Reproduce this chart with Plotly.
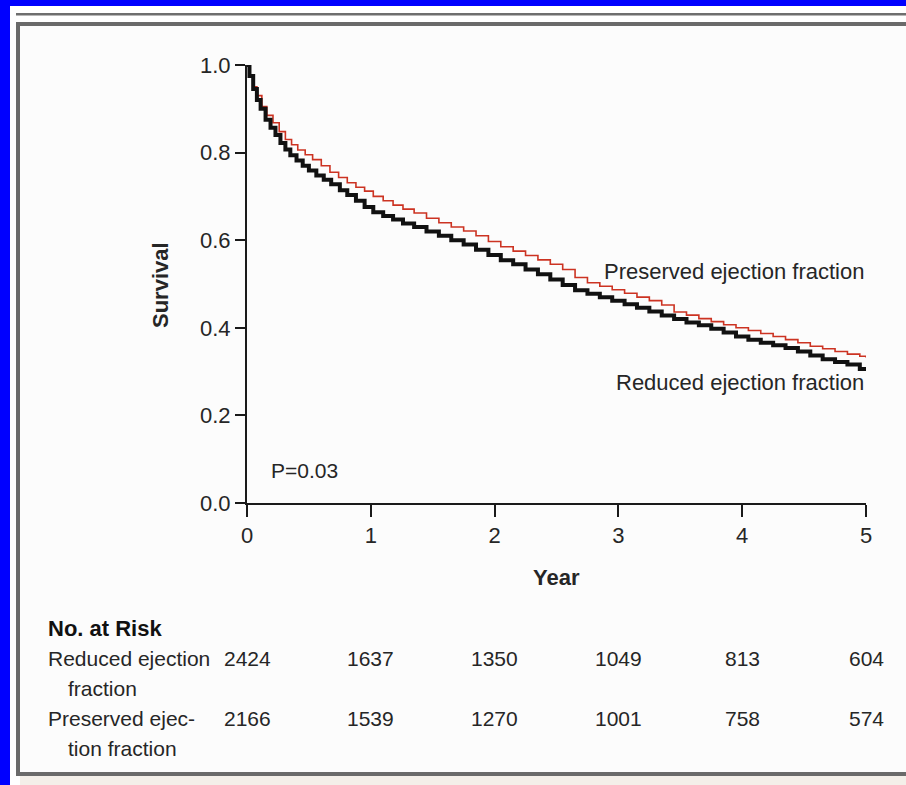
import plotly.graph_objects as go

# ---------------- data ----------------
reduced_t = [0, 0.02, 0.05, 0.08, 0.11, 0.15, 0.19, 0.23, 0.27, 0.31, 0.35, 0.40, 0.45, 0.50,
             0.56, 0.62, 0.68, 0.75, 0.81, 0.88, 0.95, 1.02, 1.10, 1.18, 1.26, 1.35, 1.45,
             1.55, 1.65, 1.75, 1.85, 1.95, 2.05, 2.15, 2.25, 2.35, 2.45, 2.55, 2.65, 2.75,
             2.85, 2.95, 3.05, 3.15, 3.25, 3.35, 3.45, 3.55, 3.65, 3.75, 3.85, 3.95, 4.05,
             4.15, 4.25, 4.35, 4.45, 4.55, 4.65, 4.75, 4.85, 4.95, 5.0]
reduced_s = [1.0, 0.975, 0.945, 0.92, 0.90, 0.875, 0.857, 0.84, 0.822, 0.807, 0.794, 0.782,
             0.770, 0.759, 0.748, 0.738, 0.728, 0.714, 0.703, 0.690, 0.676, 0.664, 0.655,
             0.647, 0.638, 0.630, 0.620, 0.610, 0.600, 0.590, 0.578, 0.566, 0.554, 0.545,
             0.533, 0.522, 0.510, 0.498, 0.486, 0.478, 0.470, 0.462, 0.454, 0.446, 0.437,
             0.428, 0.420, 0.412, 0.406, 0.398, 0.389, 0.380, 0.373, 0.366, 0.360, 0.354,
             0.346, 0.337, 0.328, 0.322, 0.316, 0.306, 0.302]

preserved_t = [0, 0.02, 0.05, 0.08, 0.12, 0.16, 0.21, 0.26, 0.31, 0.36, 0.41, 0.47, 0.53,
               0.60, 0.67, 0.74, 0.81, 0.88, 0.95, 1.02, 1.10, 1.18, 1.26, 1.35, 1.45, 1.55,
               1.65, 1.75, 1.85, 1.95, 2.05, 2.15, 2.25, 2.35, 2.45, 2.55, 2.65, 2.75, 2.85,
               2.95, 3.05, 3.15, 3.25, 3.35, 3.45, 3.55, 3.65, 3.75, 3.85, 3.95, 4.05, 4.15,
               4.25, 4.35, 4.45, 4.55, 4.65, 4.75, 4.85, 4.95, 5.0]
preserved_s = [1.0, 0.975, 0.95, 0.93, 0.905, 0.885, 0.868, 0.848, 0.830, 0.818, 0.806, 0.795,
               0.784, 0.770, 0.755, 0.743, 0.731, 0.721, 0.712, 0.700, 0.690, 0.680, 0.671,
               0.662, 0.650, 0.640, 0.630, 0.621, 0.610, 0.597, 0.585, 0.575, 0.565, 0.555,
               0.545, 0.533, 0.515, 0.503, 0.495, 0.487, 0.479, 0.470, 0.462, 0.452, 0.436,
               0.429, 0.421, 0.414, 0.407, 0.400, 0.394, 0.387, 0.380, 0.373, 0.366, 0.358,
               0.352, 0.346, 0.340, 0.335, 0.332]

risk_years = [0, 1, 2, 3, 4, 5]
risk_reduced = [2424, 1637, 1350, 1049, 813, 604]
risk_preserved = [2166, 1539, 1270, 1001, 758, 574]

y_ticks = [0.0, 0.2, 0.4, 0.6, 0.8, 1.0]
x_ticks = [0, 1, 2, 3, 4, 5]

# ---------------- layout helpers ----------------
W, H = 906, 785
L, R, T, B = 247, 866, 65, 503  # plot area in pixels


def px(x):
    return (x - L) / (R - L)


def py(y):
    return (B - y) / (B - T)


FONT = "Liberation Sans, Arial, sans-serif"
TXT = "#262626"

fig = go.Figure()
fig.add_trace(go.Scatter(x=preserved_t, y=preserved_s, mode="lines", line_shape="hv",
                         line=dict(color="#cc3322", width=1.6), hoverinfo="skip",
                         showlegend=False))
fig.add_trace(go.Scatter(x=reduced_t, y=reduced_s, mode="lines", line_shape="hv",
                         line=dict(color="#111111", width=4), hoverinfo="skip",
                         showlegend=False))

fig.update_layout(
    width=W, height=H,
    margin=dict(l=L, r=W - R, t=T, b=H - B, pad=0),
    paper_bgcolor="#ffffff", plot_bgcolor="#fcfcfc",
    font=dict(family=FONT, size=21, color=TXT),
    xaxis=dict(range=[0, 5], tickvals=x_ticks, ticktext=[str(v) for v in x_ticks],
               showgrid=False, zeroline=False, showline=True, linecolor="#1a1a1a",
               linewidth=2, ticks="outside", ticklen=12, tickwidth=2, tickcolor="#1a1a1a",
               tickfont=dict(family=FONT, size=22, color=TXT), fixedrange=True),
    yaxis=dict(range=[0, 1], tickvals=y_ticks, ticktext=[f"{v:.1f}" for v in y_ticks],
               showgrid=False, zeroline=False, showline=True, linecolor="#1a1a1a",
               linewidth=2, ticks="outside", ticklen=10, tickwidth=2, tickcolor="#1a1a1a",
               tickfont=dict(family=FONT, size=22, color=TXT), fixedrange=True),
)

ann = []
ann.append(dict(text="Preserved ejection fraction", x=5, y=0.528, xref="x", yref="y",
                xanchor="right", yanchor="middle", showarrow=False,
                font=dict(size=22, color=TXT)))
ann.append(dict(text="Reduced ejection fraction", x=5, y=0.274, xref="x", yref="y",
                xanchor="right", yanchor="middle", showarrow=False,
                font=dict(size=22, color=TXT)))
ann.append(dict(text="P=0.03", x=0.178, y=0.075, xref="x", yref="y",
                xanchor="left", yanchor="middle", showarrow=False,
                font=dict(size=21, color=TXT)))
ann.append(dict(text="<b>Survival</b>", x=px(160), y=py(285), xref="paper", yref="paper",
                textangle=-90, xanchor="center", yanchor="middle", showarrow=False,
                font=dict(size=22, color=TXT)))
ann.append(dict(text="<b>Year</b>", x=2.5, y=py(577), xref="x", yref="paper",
                xanchor="center", yanchor="middle", showarrow=False,
                font=dict(size=22, color=TXT)))
ann.append(dict(text="<b>No. at Risk</b>", x=px(46), y=py(628), xref="paper", yref="paper",
                xanchor="left", yanchor="middle", showarrow=False,
                font=dict(size=22, color="#111111")))
ann.append(dict(text="Reduced ejection", x=px(46), y=py(658), xref="paper", yref="paper",
                xanchor="left", yanchor="middle", showarrow=False, font=dict(size=21)))
ann.append(dict(text="fraction", x=px(66), y=py(688), xref="paper", yref="paper",
                xanchor="left", yanchor="middle", showarrow=False, font=dict(size=21)))
ann.append(dict(text="Preserved ejec-", x=px(46), y=py(718), xref="paper", yref="paper",
                xanchor="left", yanchor="middle", showarrow=False, font=dict(size=21)))
ann.append(dict(text="tion fraction", x=px(66), y=py(748), xref="paper", yref="paper",
                xanchor="left", yanchor="middle", showarrow=False, font=dict(size=21)))
for yr, n1, n2 in zip(risk_years, risk_reduced, risk_preserved):
    ann.append(dict(text=str(n1), x=yr, y=py(658), xref="x", yref="paper",
                    xanchor="center", yanchor="middle", showarrow=False, font=dict(size=21)))
    ann.append(dict(text=str(n2), x=yr, y=py(718), xref="x", yref="paper",
                    xanchor="center", yanchor="middle", showarrow=False, font=dict(size=21)))
fig.update_layout(annotations=ann)

# ---------------- frame decorations ----------------
def rect(x0, y0, x1, y1, color):
    return dict(type="rect", xref="paper", yref="paper", x0=px(x0), x1=px(x1),
                y0=py(y1), y1=py(y0), fillcolor=color, line=dict(width=0), layer="below")


shapes = [
    rect(20, 26, W, 772, "#fcfcfc"),
    rect(20, 776, W, H, "#f4efe9"),
    rect(0, 0, W, 6, "#0000ff"),
    rect(0, 0, 10, H, "#0000ff"),
    rect(16, 13, W, 15.5, "#6e6e6e"),
    rect(16, 22, W, 26, "#6a6a6a"),
    rect(16, 22, 20, 776, "#6a6a6a"),
    rect(16, 772, W, 776, "#6a6a6a"),
]
fig.update_layout(shapes=shapes)

fig.write_html("out.html")
